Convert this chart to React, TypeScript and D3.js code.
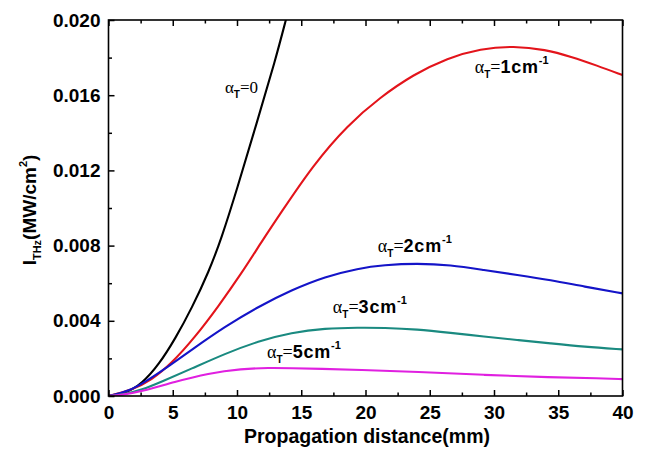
import React, { useEffect, useRef } from 'react'
import {
  axisBottom,
  axisLeft,
  axisTop,
  curveBasis,
  line,
  range,
  scaleLinear,
  select,
} from 'd3'

// propagation distance (mm) / intensity (MW/cm^2)
const zeroX = [0, 1.3, 2.6, 3.9, 5.2, 6.5, 7.8, 8.8, 10.0, 11.5, 13.0, 13.8, 14.3]
const zeroY = [0, 0.00012, 0.00065, 0.00165, 0.00305, 0.0047, 0.0066, 0.0084, 0.011, 0.01445, 0.0179, 0.02, 0.0213]

const oneX = [0, 1.78, 3.34, 4.89, 6.72, 8.53, 10.35, 11.91, 13.37, 15.94, 18.59, 21.16, 23.73, 26.38, 28.96, 31.53, 34, 36, 38, 40]
const oneY = [0, 0.0003, 0.00085, 0.00172, 0.00312, 0.00475, 0.00652, 0.0082, 0.0097, 0.0123, 0.0144, 0.0159, 0.0171, 0.01798, 0.01848, 0.01862, 0.01843, 0.01805, 0.01758, 0.01707]

const twoX = [0, 1.5, 3.08, 4.64, 6.45, 9.06, 11.65, 14.25, 16.85, 19.45, 21.42, 24.02, 26.62, 29.21, 31.81, 34.41, 37.0, 40]
const twoY = [0, 0.00022, 0.00085, 0.00156, 0.00245, 0.00369, 0.00475, 0.00564, 0.00635, 0.00679, 0.00697, 0.00706, 0.00697, 0.0067, 0.00644, 0.00617, 0.00582, 0.00546]

const threeX = [0, 1.3, 2.56, 4.12, 6.45, 9.06, 11.65, 14.25, 16.85, 19.45, 21.42, 24.02, 26.62, 29.21, 31.81, 34.41, 37.0, 40]
const threeY = [0, 0.0001, 0.00032, 0.00076, 0.00145, 0.00225, 0.00292, 0.00338, 0.0036, 0.00364, 0.00363, 0.00355, 0.00336, 0.00316, 0.00298, 0.0028, 0.00262, 0.00248]

const fiveX = [0, 1.0, 2.56, 5.16, 7.76, 10.35, 12.5, 14.25, 16.5, 19.45, 24.02, 29.21, 34.41, 38.31, 40]
const fiveY = [0, 0.00005, 0.00023, 0.00076, 0.00121, 0.00145, 0.0015, 0.00148, 0.00145, 0.00139, 0.00129, 0.00112, 0.00099, 0.00094, 0.0009]

const colors = ['#000000', '#e3141b', '#1414c8', '#1a8a80', '#e020e0']
const labelText = ['0', '1', '2', '3', '5']
const labelX = [9.06, 28.5, 20.96, 17.46, 12.33]
const labelY = [0.01612, 0.01718, 0.00768, 0.0044, 0.00202]

const xMajor = [0, 5, 10, 15, 20, 25, 30, 35, 40]
const yMajor = [0, 0.004, 0.008, 0.012, 0.016, 0.02]

const sans = '"Liberation Sans", Arial, sans-serif'
const serif = '"Liberation Serif", "Times New Roman", serif'

const margin = { left: 108.5, right: 25.5, top: 20, bottom: 54 }
const width = 648
const height = 450

function App() {
  const axesRef = useRef<SVGGElement>(null)

  const x = scaleLinear()
    .domain([0, 40])
    .range([margin.left, width - margin.right])
  const y = scaleLinear()
    .domain([0, 0.02])
    .range([height - margin.bottom, margin.top])

  const series = [
    [zeroX, zeroY],
    [oneX, oneY],
    [twoX, twoY],
    [threeX, threeY],
    [fiveX, fiveY],
  ]

  const lineGen = line<[number, number]>()
    .x((d) => x(d[0]))
    .y((d) => y(d[1]))
    .curve(curveBasis)

  useEffect(() => {
    const g = select(axesRef.current)
    g.selectAll('*').remove()
    const bottom = height - margin.bottom
    const xMinor = range(2.5, 40, 5)
    const yMinor = range(0.002, 0.02, 0.004)

    const styleAxis = (sel) => {
      sel.select('.domain').remove()
      sel.selectAll('line').attr('stroke', '#000').attr('stroke-width', 1.5)
      sel
        .selectAll('text')
        .attr('fill', '#000')
        .style('font-family', sans)
        .style('font-weight', 'bold')
        .style('font-size', '19px')
    }

    g.append('g')
      .attr('transform', `translate(0,${bottom})`)
      .call(axisBottom(x).tickValues(xMajor).tickSize(-6).tickPadding(10).tickFormat((d) => `${d}`))
      .call(styleAxis)
    g.append('g')
      .attr('transform', `translate(0,${bottom})`)
      .call(axisBottom(x).tickValues(xMinor).tickSize(-3.5).tickFormat(() => ''))
      .call(styleAxis)
    g.append('g')
      .attr('transform', `translate(0,${margin.top})`)
      .call(axisTop(x).tickValues(xMajor).tickSize(-6).tickFormat(() => ''))
      .call(styleAxis)
    g.append('g')
      .attr('transform', `translate(0,${margin.top})`)
      .call(axisTop(x).tickValues(xMinor).tickSize(-3.5).tickFormat(() => ''))
      .call(styleAxis)
    g.append('g')
      .attr('transform', `translate(${margin.left},0)`)
      .call(axisLeft(y).tickValues(yMajor).tickSize(-6).tickPadding(8).tickFormat((d) => (+d).toFixed(3)))
      .call(styleAxis)
    g.append('g')
      .attr('transform', `translate(${margin.left},0)`)
      .call(axisLeft(y).tickValues(yMinor).tickSize(-3.5).tickFormat(() => ''))
      .call(styleAxis)
  }, [])

  const plotW = width - margin.left - margin.right
  const plotH = height - margin.top - margin.bottom

  return (
    <svg
      width={width}
      height={height}
      style={{ position: 'absolute', left: 0, top: 0, background: '#fff' }}
    >
      <defs>
        <clipPath id="plotClip">
          <rect x={margin.left} y={margin.top} width={plotW} height={plotH} />
        </clipPath>
      </defs>
      <g clipPath="url(#plotClip)" fill="none" strokeWidth={2.1}>
        {series.map(([xs, ys], i) => (
          <path
            key={i}
            d={lineGen(xs.map((v, j) => [v, ys[j]]))}
            stroke={colors[i]}
          />
        ))}
      </g>
      <rect
        x={margin.left}
        y={margin.top}
        width={plotW}
        height={plotH}
        fill="none"
        stroke="#000"
        strokeWidth={1.6}
      />
      <g ref={axesRef} />

      {labelText.map((t, i) =>
        i === 0 ? (
          <text key={i} x={x(labelX[i])} y={y(labelY[i])} fontFamily={serif} fontSize={17}>
            α
            <tspan fontSize={10} fontFamily={sans} fontWeight="bold" dy={5}>
              T
            </tspan>
            <tspan dy={-5}>={t}</tspan>
          </text>
        ) : (
          <text key={i} x={x(labelX[i])} y={y(labelY[i])} fontFamily={serif} fontSize={18}>
            α
            <tspan fontSize={10} fontFamily={sans} fontWeight="bold" dy={5}>
              T
            </tspan>
            <tspan dy={-5}>=</tspan>
            <tspan fontFamily={sans} fontWeight="bold" letterSpacing={0.8}>
              {t}cm
            </tspan>
            <tspan fontFamily={sans} fontWeight="bold" fontSize={11} dy={-9}>
              -1
            </tspan>
          </text>
        )
      )}

      <text
        x={(margin.left + width - margin.right) / 2 + 1.5}
        y={443}
        textAnchor="middle"
        fontFamily={sans}
        fontWeight="bold"
        fontSize={19.5}
      >
        Propagation distance(mm)
      </text>
      <text
        transform={`translate(36,${(margin.top + height - margin.bottom) / 2 + 2}) rotate(-90)`}
        textAnchor="middle"
        fontFamily={sans}
        fontWeight="bold"
        fontSize={19}
      >
        I
        <tspan fontSize={11} dy={5}>
          THz
        </tspan>
        <tspan dy={-5}>(MW/cm</tspan>
        <tspan fontSize={11} dy={-9}>
          2
        </tspan>
        <tspan dy={9}>)</tspan>
      </text>
    </svg>
  )
}

export default App
